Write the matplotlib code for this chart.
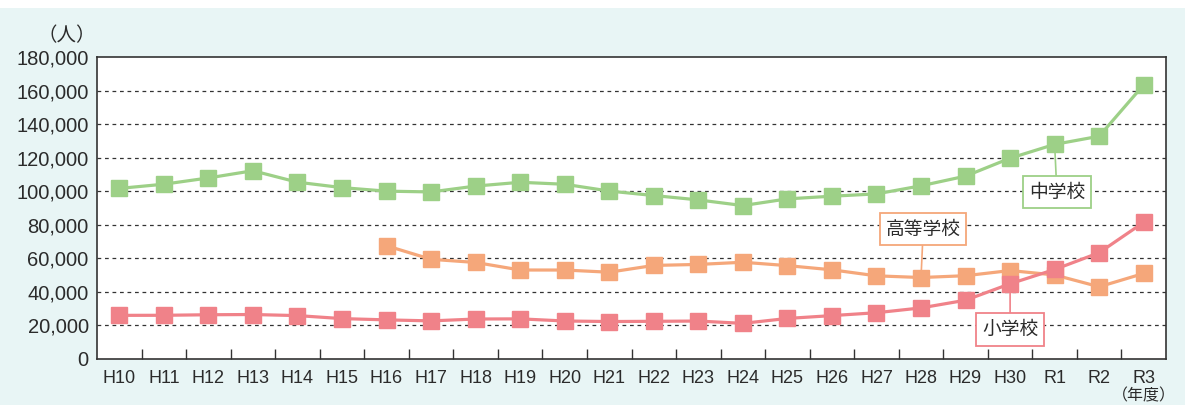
import matplotlib
matplotlib.use("Agg")
import matplotlib.pyplot as plt
from matplotlib.patches import Rectangle

years = ["H10", "H11", "H12", "H13", "H14", "H15", "H16", "H17", "H18", "H19", "H20",
         "H21", "H22", "H23", "H24", "H25", "H26", "H27", "H28", "H29", "H30", "R1", "R2", "R3"]
junior_high = [101675, 104180, 107913, 112211, 105383, 102149, 100040, 99578, 103069, 105328,
               104153, 100105, 97428, 94836, 91446, 95442, 97033, 98408, 103235, 108999,
               119687, 127922, 132777, 163442]
high_school = [None] * 6 + [67500, 59419, 57544, 53041, 53024, 51728, 55776, 56361, 57664,
                            55657, 53156, 49563, 48565, 49643, 52723, 50100, 43051, 50985]
elementary = [26017, 26047, 26373, 26511, 25869, 24077, 23318, 22709, 23825, 23927, 22652,
              22327, 22463, 22622, 21243, 24175, 25864, 27583, 30448, 35032, 44841, 53350,
              63350, 81498]
y_ticks = [0, 20000, 40000, 60000, 80000, 100000, 120000, 140000, 160000, 180000]

plt.rcParams['font.family'] = ['Liberation Sans', 'Noto Sans CJK JP', 'DejaVu Sans']

W, H = 1185, 405
fig = plt.figure(figsize=(W / 100, H / 100), dpi=100)
fig.patch.set_facecolor('white')
fig.add_artist(Rectangle((0, 0), 1, (H - 8) / H, transform=fig.transFigure,
                         facecolor='#E8F5F5', edgecolor='none', zorder=-10))

ax = fig.add_axes([97 / W, 1 - 359 / H, (1166 - 97) / W, (359 - 57) / H])
ax.set_facecolor('white')

green = '#9DD087'
orange = '#F5A77A'
pink = '#F08289'
txt = '#2B2B2B'

x = list(range(len(years)))
hs_x = [i for i, v in zip(x, high_school) if v is not None]
hs_y = [v for v in high_school if v is not None]

ax.plot(x, junior_high, color=green, lw=2.3, marker='s', ms=12, mec=green, mfc=green, zorder=3)
ax.plot(hs_x, hs_y, color=orange, lw=2.3, marker='s', ms=12, mec=orange, mfc=orange, zorder=4)
ax.plot(x, elementary, color=pink, lw=2.3, marker='s', ms=12, mec=pink, mfc=pink, zorder=5)

ax.set_xlim(-0.5, len(years) - 0.5)
ax.set_ylim(0, 180000)
ax.set_yticks(y_ticks)
ax.set_yticklabels([f"{v:,}" for v in y_ticks], fontsize=14.5, color=txt)
for v in y_ticks[1:-1]:
    ax.axhline(v, color='#333333', lw=0.9, ls=(0, (3, 3)), zorder=1)

ax.set_xticks([i + 0.5 for i in range(len(years) - 1)])
ax.set_xticklabels([])
ax.set_xticks(x, minor=True)
ax.set_xticklabels(years, minor=True, fontsize=13, color=txt)
ax.tick_params(axis='x', which='major', direction='in', length=7, width=1, color='#333333')
ax.tick_params(axis='x', which='minor', length=0, pad=8)
ax.tick_params(axis='y', length=0, pad=6)

for s in ax.spines.values():
    s.set_color('#333333')
    s.set_linewidth(1.2)

ax.text(-0.028, 1.07, '（人）', transform=ax.transAxes, fontsize=14, ha='center', va='center',
        color=txt, family=['Noto Sans CJK JP'])
ax.text(23, -0.095, '（年度）', transform=ax.get_xaxis_transform(), fontsize=11.5, ha='center',
        va='top', color=txt, family=['Noto Sans CJK JP'])

def label(text, xi, yval, tx, ty, color):
    ax.annotate(text, xy=(xi, yval), xytext=(tx, ty), textcoords='data',
                fontsize=13.5, ha='center', va='center', color=txt,
                family=['Noto Sans CJK JP'],
                bbox=dict(boxstyle='square,pad=0.3', fc='white', ec=color, lw=1.3),
                arrowprops=dict(arrowstyle='-', color=color, lw=1.2, shrinkA=0, shrinkB=0),
                zorder=6)

label('中学校', 21, junior_high[21], 21.05, 99500, green)
label('高等学校', 18, high_school[18], 18.05, 77500, orange)
label('小学校', 20, elementary[20], 20.0, 17600, pink)

fig.savefig('out.png', dpi=100)
